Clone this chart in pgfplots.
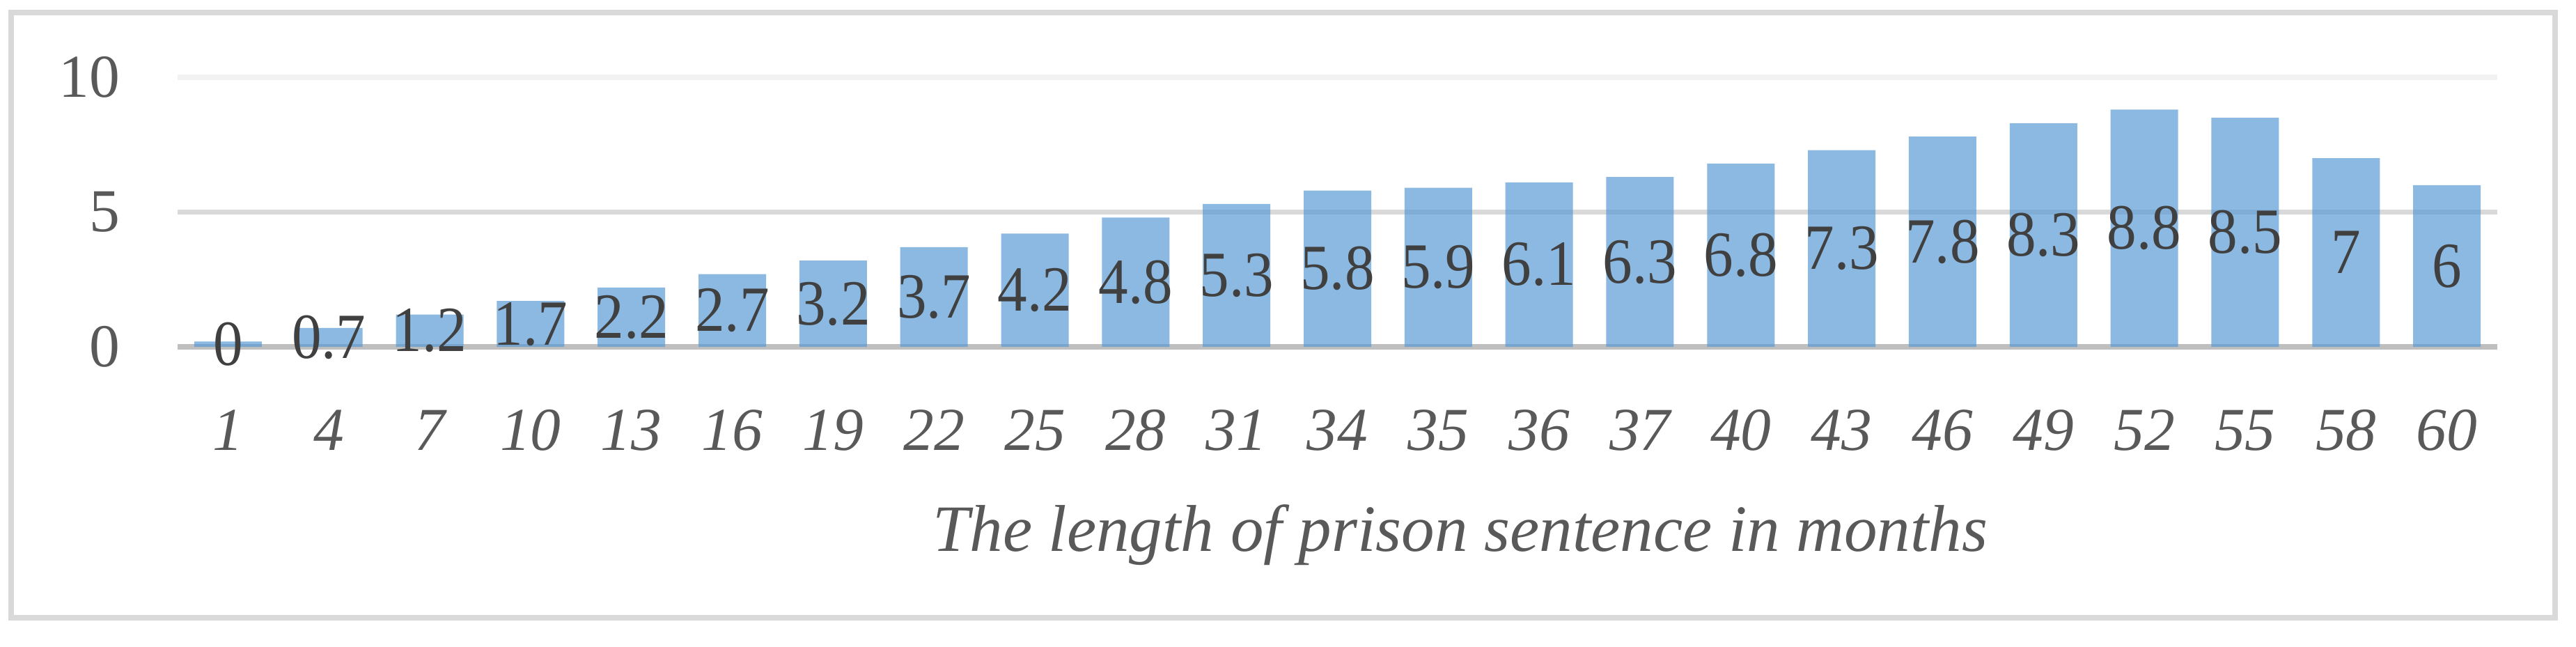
\documentclass[border=0pt]{standalone}
\usepackage{fontspec}
\setmainfont{Liberation Serif}
\newfontfamily\labelfont[FakeStretch=0.92]{Liberation Serif}
\usepackage{pgfplots}
\pgfplotsset{compat=1.18}
\definecolor{barblue}{HTML}{5B9BD5}
\definecolor{framegray}{HTML}{D9D9D9}
\definecolor{gridgray}{HTML}{D9D9D9}
\definecolor{toplinegray}{HTML}{F2F2F2}
\definecolor{axisgray}{HTML}{BFBFBF}
\definecolor{tickgray}{HTML}{595959}
\definecolor{labelgray}{HTML}{404040}

\begin{document}
\begin{tikzpicture}
\path (-51pt,-86pt) rectangle (688.8pt,99.6pt);
\draw[framegray, line width=1.5pt] (-47.8pt,-77.8pt) rectangle (682.8pt,96pt);
\begin{axis}[
    scale only axis,
    width=666.2pt, height=77.4pt,
    xmin=-0.5, xmax=22.5,
    ymin=0, ymax=10,
    axis x line*=bottom,
    axis y line*=left,
    x axis line style={axisgray, line width=1.5pt},
    y axis line style={draw=none},
    major tick length=0pt,
    xtick={0,...,22},
    xticklabels={1,4,7,10,13,16,19,22,25,28,31,34,35,36,37,40,43,46,49,52,55,58,60},
    ytick={0,5},
    extra y ticks={10},
    extra y tick style={grid style={toplinegray, line width=1.5pt}},
    ymajorgrids=true,
    grid style={gridgray, line width=1.5pt},
    xticklabel style={font=\itshape\fontsize{17.5}{18}\selectfont, text=tickgray, anchor=center, yshift=-24pt},
    yticklabel style={font=\fontsize{17.5}{18}\selectfont, text=tickgray, anchor=east, xshift=-13pt},
    /pgf/number format/assume math mode=true,
    xlabel={The length of prison sentence in months},
    every axis x label/.style={at={(axis description cs:0.553,0)}, anchor=center, yshift=-54pt,
        font=\itshape\fontsize{19}{20}\selectfont, text=tickgray},
    clip=false,
]
% bar 1 is labelled 0 but shows a sliver above the axis
\addplot[
    ybar, bar width=19.4pt,
    fill=barblue, fill opacity=0.7, draw=none,
    point meta=explicit symbolic,
    visualization depends on={rawy \as \rawy},
    nodes near coords,
    every node near coord/.append style={anchor=center, yshift=-\rawy*3.87pt,
        font=\labelfont\fontsize{18.5}{19}\selectfont, text=labelgray, text opacity=1},
    ]
    coordinates {
    (0,0.2)[0] (1,0.7)[0.7] (2,1.2)[1.2] (3,1.7)[1.7] (4,2.2)[2.2] (5,2.7)[2.7]
    (6,3.2)[3.2] (7,3.7)[3.7] (8,4.2)[4.2] (9,4.8)[4.8] (10,5.3)[5.3] (11,5.8)[5.8]
    (12,5.9)[5.9] (13,6.1)[6.1] (14,6.3)[6.3] (15,6.8)[6.8] (16,7.3)[7.3] (17,7.8)[7.8]
    (18,8.3)[8.3] (19,8.8)[8.8] (20,8.5)[8.5] (21,7)[7] (22,6)[6]
    };
\end{axis}
\end{tikzpicture}
\end{document}
